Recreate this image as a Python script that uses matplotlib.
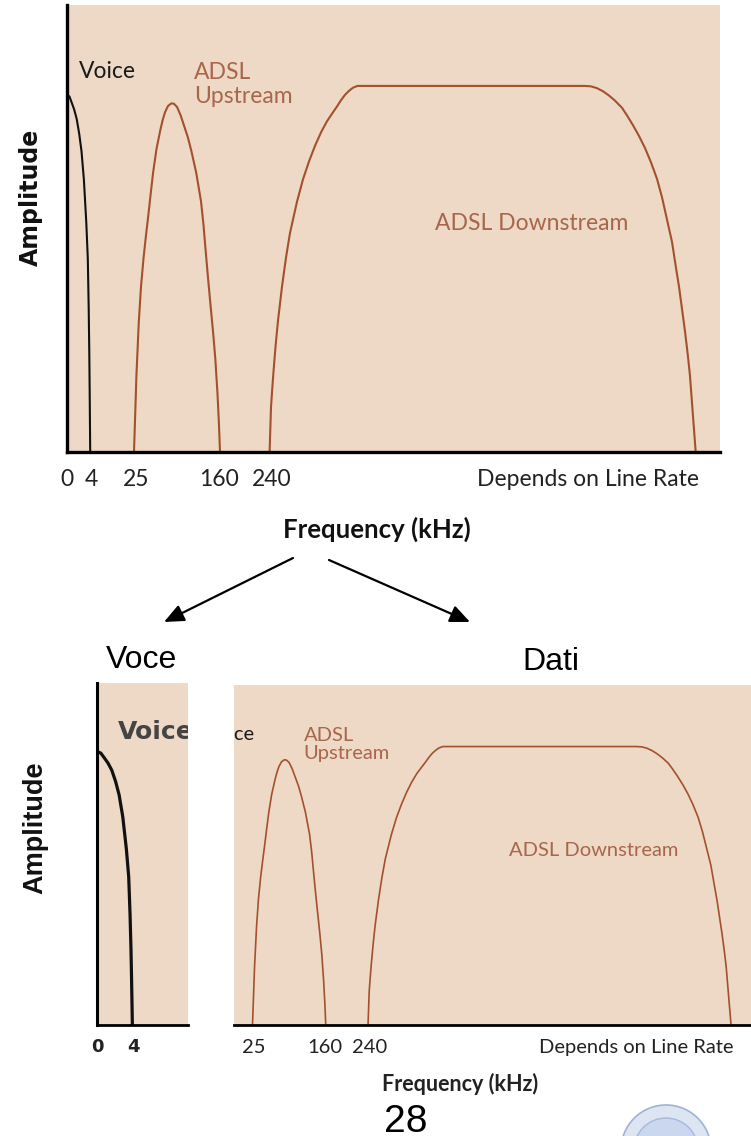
import matplotlib
matplotlib.use('Agg')
import matplotlib.pyplot as plt
from matplotlib.patches import Ellipse, FancyArrowPatch

W, H = 751, 1136

# spectrum curves, x in arbitrary axis units (0 = amplitude axis), amplitude 0..1
voice_x = [0, 2.5, 4.8, 7.2, 9.7, 12.2, 14.5, 16.9, 19.3, 20.8, 21.7, 22.3, 22.7, 23.2]
voice_amp = [0.80, 0.795, 0.781, 0.766, 0.745, 0.712, 0.673, 0.609, 0.513, 0.433, 0.321, 0.22, 0.129, 0.0]

up_x = [67.0, 68.0, 69.4, 71.75, 74, 76.5, 79, 81.3, 83.7, 86.1, 89.5, 93.3, 95.7, 98, 101,
        104.3, 107, 110, 113.5, 117.2, 121, 124.4, 129.2, 134, 136.5, 138.7, 141, 143.5, 146, 148.3,
        150.5, 152, 153]
up_amp = [0, 0.07, 0.17, 0.289, 0.37, 0.433, 0.485, 0.529, 0.578, 0.625, 0.678, 0.72, 0.743, 0.76,
          0.774, 0.78, 0.779, 0.772, 0.754, 0.729, 0.703, 0.673, 0.625, 0.561, 0.508, 0.449, 0.39, 0.329,
          0.27, 0.209, 0.13, 0.06, 0]

down_x = [202.6, 203.3, 204, 205.2, 206.5, 208.5, 210.8, 215, 219, 223, 230, 236, 242, 248, 254, 260,
          266, 270, 274, 278, 282, 286, 290.5, 517.5, 524, 530, 536, 541.7, 548, 555, 560, 566, 572,
          578, 584, 590, 595, 600, 605, 609, 612, 615, 618, 621, 623, 625, 627, 628.7]
down_amp = [0, 0.05, 0.10, 0.14, 0.18, 0.235, 0.29, 0.37, 0.435, 0.49, 0.56, 0.61, 0.65, 0.685, 0.715,
            0.74, 0.76, 0.773, 0.787, 0.799, 0.808, 0.815, 0.819, 0.819, 0.818, 0.814, 0.807, 0.798,
            0.786, 0.77, 0.753, 0.731, 0.707, 0.68, 0.648, 0.611, 0.57, 0.52, 0.47, 0.412, 0.37, 0.32,
            0.27, 0.213, 0.17, 0.11, 0.05, 0]

tick_pos = [0, 24, 69, 152, 205, 632]
tick_labels = ['0', '4', '25', '160', '240', 'Depends on Line Rate']

BEIGE = '#eed9c6'
BROWN = '#a3512c'
TEXT_BROWN = '#a8664a'
CHART_FONT = ['Lato', 'DejaVu Sans']
NARROW_FONT = ['Liberation Sans Narrow', 'Liberation Sans', 'DejaVu Sans']


def px_axes(fig, x0, y0, x1, y1):
	return fig.add_axes([x0 / W, 1 - y1 / H, (x1 - x0) / W, (y1 - y0) / H])


def fxy(x, y):
	return x / W, 1 - y / H


def draw_panel(ax, xlim, lw_voice, lw_band, fs, tick_fs, tick_pad, voice_font, tick_font, tick_weight):
	ax.set_facecolor(BEIGE)
	ax.plot(voice_x, voice_amp, color='#111111', lw=lw_voice)
	ax.plot(up_x, up_amp, color=BROWN, lw=lw_band)
	ax.plot(down_x, down_amp, color=BROWN, lw=lw_band)
	ax.set_yticks([])
	ax.set_xticks(tick_pos, tick_labels)
	# set limits after the ticks, otherwise set_xticks widens them
	ax.set_xlim(*xlim)
	ax.set_ylim(0, 1)
	ax.tick_params(axis='x', length=0, pad=tick_pad, labelsize=tick_fs, labelcolor='#222222')
	for lab in ax.get_xticklabels():
		lab.set_family(tick_font)
		lab.set_weight(tick_weight)
	ax.get_xticklabels()[-1].set_horizontalalignment('right')
	for s in ['top', 'right']:
		ax.spines[s].set_visible(False)

	# band labels, clipped by the panel like the cropped slide images
	ax.text(voice_font[4], 0.837, 'Voice', color=voice_font[1], fontsize=voice_font[2], family=voice_font[0],
	        weight=voice_font[3], va='baseline', clip_on=True)
	ax.text(127, 0.834, 'ADSL', color=TEXT_BROWN, fontsize=fs, family=CHART_FONT, va='baseline', clip_on=True)
	ax.text(127, 0.781, 'Upstream', color=TEXT_BROWN, fontsize=fs, family=CHART_FONT, va='baseline', clip_on=True)
	ax.text(368, 0.497, 'ADSL Downstream', color=TEXT_BROWN, fontsize=fs, family=CHART_FONT, va='baseline', clip_on=True)


fig = plt.figure(figsize=(W / 100, H / 100), dpi=100)
fig.patch.set_facecolor('white')

# top chart
ax_top = px_axes(fig, 67, 5, 720, 452)
draw_panel(ax_top, (0, 653), 1.5, 1.5, 16.5, 16.5, 12, (CHART_FONT, '#1a1a1a', 16.5, 'normal', 12), CHART_FONT, 'normal')
for s in ['left', 'bottom']:
	ax_top.spines[s].set_linewidth(2.4)

fig.text(*fxy(31, 197), 'Amplitude', rotation=90, ha='center', va='center', fontsize=17,
         family='DejaVu Sans', weight='bold', color='#111111')
fig.text(*fxy(377, 538), 'Frequency (kHz)', ha='center', va='baseline', fontsize=18.5,
         family=CHART_FONT, weight='bold', color='#111111')

# arrows
arrow_kw = dict(arrowstyle='-|>,head_length=0.8,head_width=0.35', color='black', lw=1.6,
                mutation_scale=15, shrinkA=0, shrinkB=0)
fig.add_artist(FancyArrowPatch(fxy(293, 558), fxy(164, 622), transform=fig.transFigure, **arrow_kw))
fig.add_artist(FancyArrowPatch(fxy(329, 560), fxy(470, 622), transform=fig.transFigure, **arrow_kw))

fig.text(*fxy(141, 668), 'Voce', ha='center', va='baseline', fontsize=23, family='Liberation Sans', color='black')
fig.text(*fxy(551, 670), 'Dati', ha='center', va='baseline', fontsize=23, family='Liberation Sans', color='black')

# bottom left: voice band zoomed
ax_v = px_axes(fig, 97, 683, 188, 1025)
draw_panel(ax_v, (0, 59.7), 2.3, 1.3, 14, 13, 9, (['DejaVu Sans'], '#444444', 18, 'bold', 14), ['DejaVu Sans'], 'bold')
ax_v.spines['bottom'].set_linewidth(2.0)
ax_v.spines['left'].set_linewidth(2.2)
fig.text(*fxy(35, 828), 'Amplitude', rotation=90, ha='center', va='center', fontsize=19.5,
         family=NARROW_FONT, weight='bold', color='#111111')

# bottom right: data bands
ax_d = px_axes(fig, 234, 685, 751, 1025)
draw_panel(ax_d, (45.3, 652.1), 1.3, 1.2, 14.5, 14.5, 10, (CHART_FONT, '#1a1a1a', 14.5, 'normal', 11), CHART_FONT, 'normal')
ax_d.spines['left'].set_visible(False)
ax_d.spines['bottom'].set_linewidth(2.0)
fig.text(*fxy(460, 1091), 'Frequency (kHz)', ha='center', va='baseline', fontsize=15.5,
         family=CHART_FONT, weight='bold', color='#222222')

fig.text(*fxy(406, 1132), '28', ha='center', va='baseline', fontsize=28, family=NARROW_FONT, color='black')

# faint seal in the corner
fig.add_artist(Ellipse(fxy(666, 1150), 90 / W, 90 / H, transform=fig.transFigure,
                       facecolor='#dde5f3', edgecolor='#9fb2da', lw=1.2))
fig.add_artist(Ellipse(fxy(666, 1150), 64 / W, 64 / H, transform=fig.transFigure,
                       facecolor='#cbd7ee', edgecolor='#a6b8de', lw=1.0))

fig.savefig('out.png', dpi=100)
